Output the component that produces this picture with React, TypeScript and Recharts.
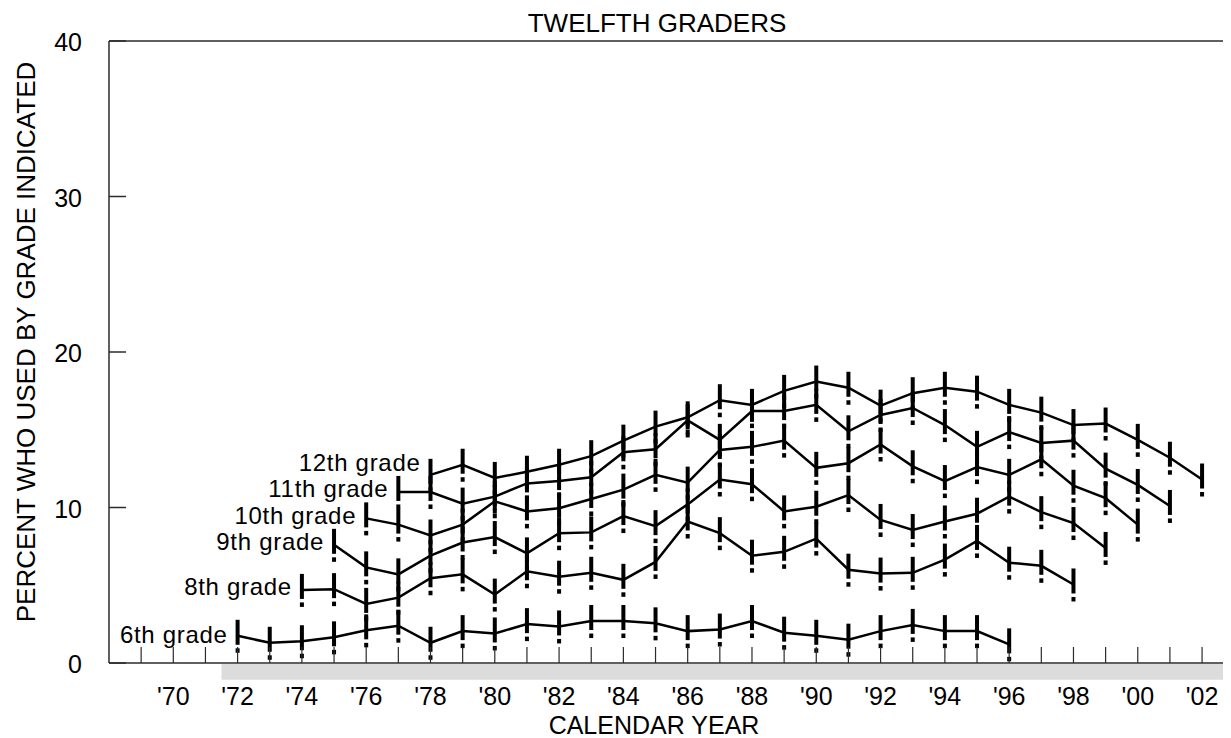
import { LineChart, Line, XAxis, YAxis, ReferenceLine, ReferenceArea } from 'recharts';

// retrospective reports by 12th graders, by the grade the use began in
const gradeNames = ['12th grade', '11th grade', '10th grade', '9th grade', '8th grade', '6th grade'];
const startYears = [1978, 1977, 1976, 1975, 1974, 1972];

const grade12 = [12.1, 12.75, 11.9, 12.3, 12.75, 13.3, 14.3, 15.2, 15.8, 16.9, 16.6, 17.5, 18.1, 17.7, 16.55, 17.35, 17.7, 17.45, 16.6, 16.1, 15.3, 15.4, 14.35, 13.2, 11.8];
const grade11 = [11.0, 11.0, 10.25, 10.7, 11.55, 11.7, 11.95, 13.55, 13.75, 15.6, 14.35, 16.2, 16.2, 16.6, 14.9, 15.95, 16.4, 15.3, 13.9, 14.85, 14.15, 14.3, 12.5, 11.45, 10.1];
const grade10 = [9.3, 8.9, 8.2, 8.9, 10.4, 9.75, 9.95, 10.55, 11.15, 12.1, 11.6, 13.7, 13.9, 14.3, 12.55, 12.85, 14.05, 12.65, 11.7, 12.6, 12.1, 13.1, 11.4, 10.6, 8.9];
const grade9 = [7.6, 6.15, 5.7, 6.9, 7.75, 8.1, 7.05, 8.35, 8.4, 9.45, 8.8, 10.2, 11.8, 11.5, 9.75, 10.05, 10.8, 9.2, 8.55, 9.1, 9.6, 10.7, 9.7, 9.0, 7.4];
const grade8 = [4.7, 4.75, 3.8, 4.2, 5.45, 5.7, 4.4, 5.9, 5.55, 5.8, 5.35, 6.5, 9.1, 8.35, 6.9, 7.15, 8.0, 6.0, 5.75, 5.8, 6.65, 7.85, 6.45, 6.25, 5.05];
const grade6 = [1.75, 1.3, 1.4, 1.65, 2.1, 2.4, 1.3, 2.05, 1.9, 2.5, 2.35, 2.7, 2.7, 2.55, 2.05, 2.15, 2.7, 1.95, 1.75, 1.5, 2.05, 2.45, 2.05, 2.05, 1.2];

const gradeValues = [grade12, grade11, grade10, grade9, grade8, grade6];

const yearTicks = [1969, 1970, 1971, 1972, 1973, 1974, 1975, 1976, 1977, 1978, 1979, 1980, 1981, 1982, 1983, 1984, 1985, 1986, 1987, 1988, 1989, 1990, 1991, 1992, 1993, 1994, 1995, 1996, 1997, 1998, 1999, 2000, 2001, 2002];
const labelledYears = [1970, 1972, 1974, 1976, 1978, 1980, 1982, 1984, 1986, 1988, 1990, 1992, 1994, 1996, 1998, 2000, 2002];
const percentTicks = [0, 10, 20, 30, 40];

const series = gradeValues.map((vals, i) => vals.map((v, j) => ({ year: startYears[i] + j, v })));

const W = 1223;
const H = 730;
const PLOT_LEFT = 101;
const PLOT_BOTTOM = 655;
const FONT = 'Liberation Sans, Arial, Helvetica, sans-serif';
const AXIS = '#2b2b2b';
// how far each grade name sits above its first point (px)
const labelLift = [12.5, 3, 3, 3, 3, 1];

const yearLabel = (y: number) => "'" + String(y).slice(2);

function XTick(props: any) {
  const { x, payload } = props;
  const yr = payload.value;
  return (
    <g>
      <line x1={x} x2={x} y1={PLOT_BOTTOM} y2={PLOT_BOTTOM - 16} stroke={AXIS} strokeWidth={1.2} />
      {labelledYears.includes(yr) && (
        <text x={x} y={PLOT_BOTTOM + 33} textAnchor="middle" dominantBaseline="central" fontSize={25} fontFamily={FONT} fill="#000">
          {yearLabel(yr)}
        </text>
      )}
    </g>
  );
}

function YTick(props: any) {
  const { y, payload } = props;
  return (
    <g>
      <line x1={PLOT_LEFT} x2={PLOT_LEFT + 17} y1={y} y2={y} stroke={AXIS} strokeWidth={1.5} />
      <text x={PLOT_LEFT - 27} y={y + 1} textAnchor="end" dominantBaseline="central" fontSize={25} fontFamily={FONT} fill="#000">
        {payload.value}
      </text>
    </g>
  );
}

// "!" shaped marker, plus the grade name in front of the first point
const makeDot = (i: number) => (props: any) => {
  const { cx, cy, index } = props;
  return (
    <g key={gradeNames[i] + index}>
      <rect x={cx - 2} y={cy - 16} width={4} height={25} fill="#000" />
      <rect x={cx - 2} y={cy + 12.5} width={4} height={4.5} fill="#000" />
      {index === 0 && (
        <text
          x={cx - 10}
          y={cy - labelLift[i]}
          textAnchor="end"
          dominantBaseline="central"
          fontSize={24}
          letterSpacing={0.7}
          fontFamily={FONT}
          fill="#000"
        >
          {gradeNames[i]}
        </text>
      )}
    </g>
  );
};

export default function App() {
  return (
    <div style={{ width: W, height: H }}>
      <LineChart width={W} height={H} margin={{ top: 33, right: 0, bottom: 0, left: 41 }}>
        <XAxis
          type="number"
          dataKey="year"
          domain={[1968, 2002.9]}
          ticks={yearTicks}
          interval={0}
          tick={<XTick />}
          tickLine={false}
          axisLine={{ stroke: AXIS, strokeWidth: 1.5 }}
          height={75}
          allowDataOverflow
        />
        <YAxis
          type="number"
          domain={[0, 40]}
          ticks={percentTicks}
          interval={0}
          tick={<YTick />}
          tickLine={false}
          axisLine={{ stroke: AXIS, strokeWidth: 1.5 }}
          width={60}
        />
        <ReferenceArea x1={1971.5} x2={2002.9} y1={-1.07} y2={-0.06} ifOverflow="visible" fill="#dcdcdc" fillOpacity={1} stroke="none" />
        <ReferenceLine y={40} stroke={AXIS} strokeWidth={1.5} />
        {series.map((data, i) => (
          <Line
            key={gradeNames[i]}
            data={data}
            dataKey="v"
            type="linear"
            stroke="#000"
            strokeWidth={2.5}
            dot={makeDot(i)}
            activeDot={false}
            isAnimationActive={false}
          />
        ))}
        <text x={649} y={15} textAnchor="middle" dominantBaseline="central" fontSize={26} fontFamily={FONT} fill="#000">
          TWELFTH GRADERS
        </text>
        <text x={646} y={717} textAnchor="middle" dominantBaseline="central" fontSize={25} fontFamily={FONT} fill="#000">
          CALENDAR YEAR
        </text>
        <text
          x={18}
          y={334}
          transform="rotate(-90 18 334)"
          textAnchor="middle"
          dominantBaseline="central"
          fontSize={26}
          fontFamily={FONT}
          fill="#000"
        >
          PERCENT WHO USED BY GRADE INDICATED
        </text>
      </LineChart>
    </div>
  );
}
